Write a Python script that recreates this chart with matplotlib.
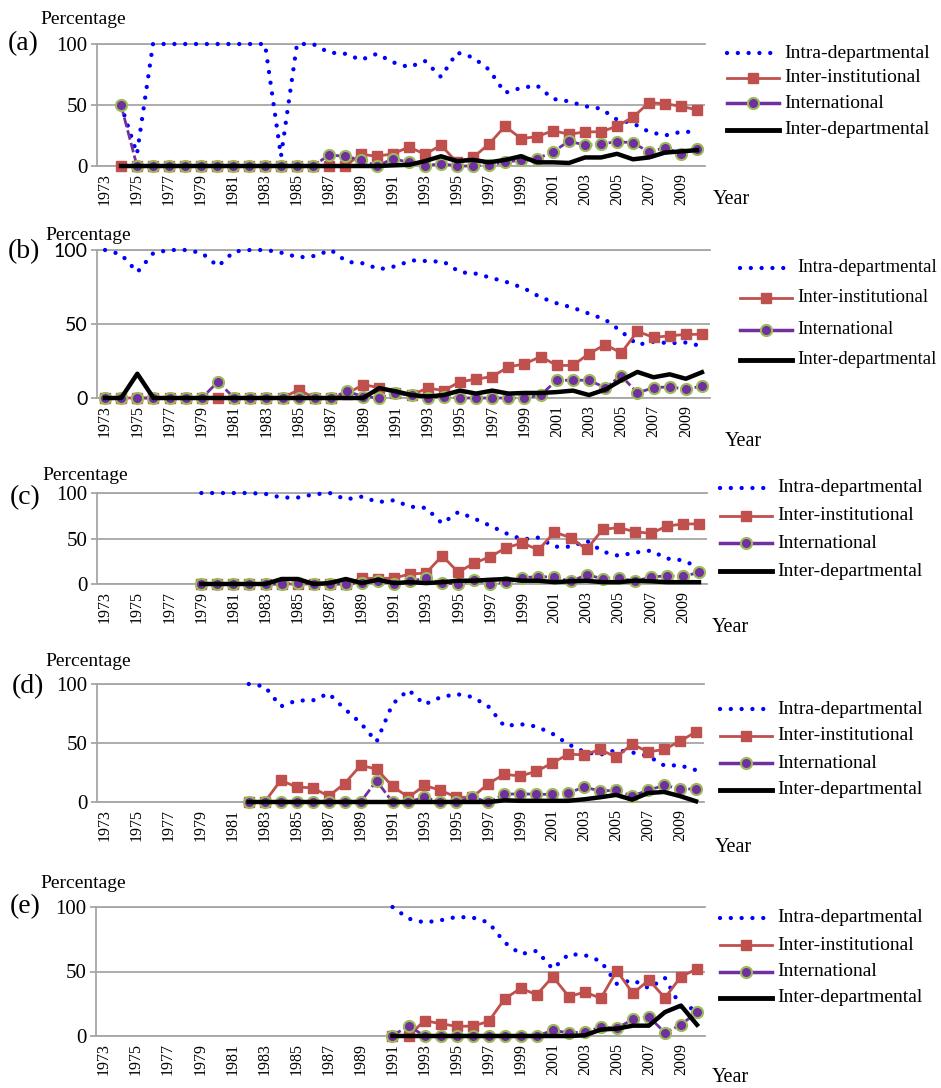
import numpy as np
import matplotlib
matplotlib.use('Agg')
import matplotlib.pyplot as plt
from matplotlib.lines import Line2D

plt.rcParams['font.family'] = ['Liberation Serif', 'DejaVu Serif']

# ---------------- data ----------------
first_year = 1973
last_year = 2010
tick_years = [str(y) for y in range(1973, 2010, 2)]
series_names = ['Intra-departmental', 'Inter-institutional', 'International', 'Inter-departmental']
panel_labels = ['(a)', '(b)', '(c)', '(d)', '(e)']
start_years = [1974, 1973, 1979, 1982, 1991]

# panel (a) from 1974
intra_a = [50, 10, 100, 100, 100, 100, 100, 100, 100, 100, 8, 100, 100, 93, 92, 87, 92, 85, 81, 86,
           73, 93, 89, 79, 60, 64, 66, 55, 53, 49, 47, 38, 35, 28, 25, 28, 28]
inst_a = [0, 0, 0, 0, 0, 0, 0, 0, 0, 0, 0, 0, 0, 0, 0, 9.6, 8, 10, 15.6, 9.6,
          17, 3, 7, 18, 32.6, 22.5, 24, 29, 26, 28, 28, 32.6, 40, 52, 51, 49, 46]
intl_a = [50, 0, 0, 0, 0, 0, 0, 0, 0, 0, 0, 0, 0, 9, 8, 5, 0, 6, 3, 0,
          2, 0, 0, 1, 3, 5, 6, 11.5, 20.5, 17, 18, 20, 19, 11.5, 15, 10, 14]
dept_a = [0, 0, 0, 0, 0, 0, 0, 0, 0, 0, 0, 0, 0, 0, 0, 0, 0, 0.5, 1, 4,
          8, 4, 5, 3, 5, 8, 3, 3, 2.5, 7, 7, 10, 5.5, 7, 11, 12, 13]

# panel (b) from 1973
intra_b = [100, 97, 85, 98, 100, 100, 98, 89, 99, 100, 100, 98, 95, 96, 100, 92, 91, 87, 89, 93,
           92.5, 92, 85, 84, 81, 78, 74, 68, 64, 61, 57, 53, 45, 36, 38, 37, 37.5, 35]
inst_b = [0, 0, 0, 0, 0, 0, 0, 0, 0, 0, 0, 0, 5.6, 0, 0, 3, 9, 7, 3.4, 2,
          6.8, 5, 11, 12.7, 14.5, 21, 23, 28, 22, 22, 30, 36, 30.5, 45, 41, 42, 43, 43]
intl_b = [0, 0, 0, 0, 0, 0, 0, 11, 0, 0, 0, 0, 0, 0, 0, 4.5, 1, 0, 3.4, 2,
          0, 1, 0, 0, 0, 0, 0, 2, 12, 12, 12, 7, 15, 3.4, 7, 7.5, 6, 8]
dept_b = [0, 0, 16.4, 0, 0, 0, 0, 0, 0, 0, 0, 0, 0, 0, 0, 0, 0, 6.7, 4.5, 2,
          1, 2, 5, 3, 5, 3, 3.4, 3.4, 4, 5, 2, 5.7, 12, 17.6, 14, 16, 13, 17.4]

# panel (c) from 1979
intra_c = [100, 100, 100, 100, 99, 95, 95, 98.5, 100, 93, 96, 90, 92, 85, 83.6, 66.5,
           79, 72, 64, 55.6, 49, 51, 41, 41, 47.6, 35.6, 31, 34.5, 36.7, 28, 26, 18]
inst_c = [0, 0, 0, 0, 0, 0, 0, 0, 0, 0, 6.5, 6, 6.5, 11, 12, 31,
          13, 23, 30, 40, 45, 37.5, 57, 51, 38, 60, 62, 57.5, 55.6, 63.6, 66, 66]
intl_c = [0, 0, 0, 0, 0, 0, 1, 0, 0, 0, 1, 3, 0.5, 3, 6.5, 1,
          0, 4.7, 0, 2, 7, 8, 7.6, 3, 10, 6, 7, 3, 7.6, 9, 8.4, 12.7]
dept_c = [0, 0, 0, 0, 0, 5.5, 5.5, 0, 1, 5.5, 1, 4.7, 1, 2, 1, 2,
          3.6, 3.6, 4.7, 5.5, 3.6, 3.6, 2, 3, 3.6, 2, 2, 3.6, 3, 2, 2, 2]

# panel (d) from 1982
intra_d = [100, 98, 81, 86, 86, 92, 79, 67, 51, 83, 95, 82.7, 88.7, 91.5, 89,
           81, 64.3, 66, 64, 58, 49, 42.5, 40, 44, 42, 39, 31, 31, 27]
inst_d = [0, 0, 18.4, 12.7, 12, 5, 15.6, 31, 28, 13.3, 4, 14, 10, 4, 4,
          15.6, 23.5, 22, 26, 33, 40.5, 40, 44.5, 38, 49, 42.5, 44.5, 51.5, 59.5]
intl_d = [0, 0, 0, 0, 0, 0, 0, 0, 18, 0, 0, 4, 0, 0, 4,
          0, 6.5, 7, 6.5, 6.5, 7.6, 12.7, 9.3, 10, 5, 10, 14, 11.3, 10.8]
dept_d = [0, 0, 0, 0, 0, 0, 0, 0, 0, 0, 0, 0, 0, 0, 0,
          0, 1.4, 1, 1, 1, 1, 2.3, 4, 6, 2, 7.6, 8.5, 5, 0.6]

# panel (e) from 1991
intra_e = [100, 91, 88, 89.7, 92.3, 91.8, 88, 72.5, 63.5, 66, 52, 63.5, 62.7, 58,
           40.4, 43.4, 37, 45, 22.4, 21]
inst_e = [0, 0, 12, 9.5, 7.5, 7.7, 11.3, 28.8, 37, 32, 46, 30.6, 34, 29.3,
          50.6, 33, 43.4, 29.6, 46, 52]
intl_e = [0, 8, 0, 0, 0, 0, 0, 0, 0, 0, 4.4, 2.5, 3, 7,
          6, 13, 15, 2.5, 8.7, 18.5]
dept_e = [0, 0, 0, 0, 0, 0, 0, 0, 0, 0, 0, 0, 0.5, 5,
          5.7, 8, 8, 18.5, 23.6, 8.7]

panel_data = [
    (intra_a, inst_a, intl_a, dept_a),
    (intra_b, inst_b, intl_b, dept_b),
    (intra_c, inst_c, intl_c, dept_c),
    (intra_d, inst_d, intl_d, dept_d),
    (intra_e, inst_e, intl_e, dept_e),
]

# ---------------- style / layout ----------------
W, H = 941, 1088
BLUE = '#0000FF'
RED = '#C0504D'
PURPLE = '#7030A0'
GREEN = '#9BBB59'
GRID = '#A6A6A6'

layout = [
    dict(L=97, R=705, T=44, B=166, lab=(8, 44), pct=(40, 20), year=(713, 199), leg_x=727, rows=[53, 78, 103, 130], lfs=14),
    dict(L=97, R=710, T=250, B=398, lab=(8, 252), pct=(45, 235), year=(725, 441), leg_x=740, rows=[268, 298, 330, 360], lfs=13.5),
    dict(L=97, R=707, T=493, B=584, lab=(10, 498), pct=(42, 475), year=(712, 628), leg_x=720, rows=[488, 516, 543, 571], lfs=14),
    dict(L=97, R=704, T=684, B=802, lab=(12, 687), pct=(45, 662), year=(715, 848), leg_x=720, rows=[709, 736, 763, 790], lfs=14),
    dict(L=96, R=705, T=907, B=1036, lab=(10, 907), pct=(40, 884), year=(712, 1078), leg_x=720, rows=[918, 945, 972, 998], lfs=14),
]


def pad(start, vals):
    n = last_year - first_year + 1
    out = [np.nan] * (start - first_year) + list(vals)
    out = out + [np.nan] * (n - len(out))
    return np.array(out, dtype=float)


def fx(x):
    return x / W


def fy(y):
    return 1 - y / H


fig = plt.figure(figsize=(W / 100, H / 100), dpi=100)

n_years = last_year - first_year + 1
xs = np.arange(n_years)

intra_style = dict(color=BLUE, lw=3.1, linestyle=(0, (0.01, 2.5)), dash_capstyle='round')
inst_style = dict(color=RED, lw=2.0, marker='s', ms=6.5, mfc=RED, mec=RED)
intl_style = dict(color=PURPLE, lw=2.0, marker='o', ms=8, mfc=PURPLE, mec=GREEN, mew=1.5)
dept_style = dict(color='black', lw=3.2)

for i, (lay, data, start) in enumerate(zip(layout, panel_data, start_years)):
    intra, inst, intl, dept = [pad(start, v) for v in data]
    ax = fig.add_axes([fx(lay['L']), fy(lay['B']), fx(lay['R'] - lay['L']), (lay['B'] - lay['T']) / H])
    ax.set_xlim(-0.5, n_years - 0.5)
    ax.set_ylim(0, 100)
    ax.set_yticks([0, 50, 100])
    ax.set_xticks(np.arange(0, len(tick_years) * 2, 2))
    ax.set_xticklabels(tick_years, rotation=90)
    ax.grid(axis='y', color=GRID, lw=1.3)
    ax.set_axisbelow(True)
    ax.spines['right'].set_visible(False)
    for s in ['left', 'top', 'bottom']:
        ax.spines[s].set_color(GRID)
        ax.spines[s].set_linewidth(1.3)
    ax.tick_params(axis='y', length=4, width=1.3, color=GRID, pad=3, labelsize=15)
    ax.tick_params(axis='x', length=0, pad=5, labelsize=11.5)
    if i == 1:
        for t in ax.get_yticklabels():
            t.set_fontfamily(['Lato', 'DejaVu Sans'])
            t.set_fontsize(14)

    ax.plot(xs, intra, clip_on=False, zorder=3, **intra_style)
    ax.plot(xs, inst, clip_on=False, zorder=4, **inst_style)
    ax.plot(xs, intl, clip_on=False, zorder=5, linestyle=(0, (3.5, 1.2)), **intl_style)
    ax.plot(xs, dept, clip_on=False, zorder=6, **dept_style)

    # panel texts
    fig.text(fx(lay['lab'][0]), fy(lay['lab'][1]), panel_labels[i], fontsize=20, ha='left', va='center')
    fig.text(fx(lay['pct'][0]), fy(lay['pct'][1]), 'Percentage', fontsize=14, ha='left', va='center')
    fig.text(fx(lay['year'][0]), fy(lay['year'][1]), 'Year', fontsize=14.5, ha='left', va='center')

    # legend
    handles = [
        dict(**intra_style),
        dict(**inst_style),
        dict(color=PURPLE, lw=2.5, marker='o', ms=8, mfc=PURPLE, mec=GREEN, mew=1.5),
        dict(color='black', lw=3.5),
    ]
    x0 = lay['leg_x']
    x1 = x0 + 52
    for name, st, ry in zip(series_names, handles, lay['rows']):
        ln = Line2D([fx(x0), fx((x0 + x1) / 2), fx(x1)], [fy(ry)] * 3, transform=fig.transFigure,
                    markevery=[1] if 'marker' in st else None, **st)
        fig.add_artist(ln)
        fig.text(fx(x1 + 5), fy(ry), name, fontsize=lay['lfs'], ha='left', va='center')

fig.savefig('out.png', dpi=100)
